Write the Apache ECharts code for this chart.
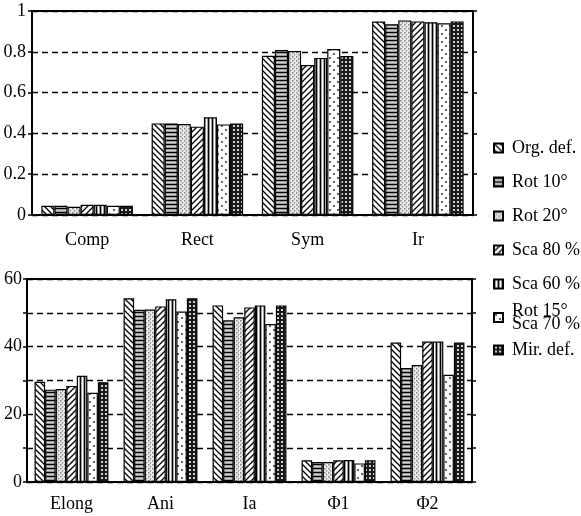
<!DOCTYPE html>
<html>
<head>
<meta charset="utf-8">
<script src="https://cdn.jsdelivr.net/npm/echarts@6/dist/echarts.min.js"></script>
<style>
  html, body { margin: 0; padding: 0; background: #fff; }
  #chart { width: 581px; height: 516px; }
</style>
</head>
<body>
<div id="chart"></div>
<script>
// categories
const topCats = ['Comp', 'Rect', 'Sym', 'Ir'];
const bottomCats = ['Elong', 'Ani', 'Ia', 'Φ1', 'Φ2'];
const seriesNames = ['Org. def.', 'Rot 10°', 'Rot 20°', 'Sca 80 %', 'Sca 60 %', 'Rot 15°\nSca 70 %', 'Mir. def.'];

// values per category, in the order of seriesNames
const comp  = [0.045, 0.045, 0.040, 0.050, 0.050, 0.045, 0.045];
const rect  = [0.449, 0.449, 0.446, 0.433, 0.479, 0.444, 0.449];
const sym   = [0.781, 0.809, 0.804, 0.735, 0.770, 0.814, 0.779];
const ir    = [0.948, 0.935, 0.954, 0.949, 0.945, 0.940, 0.949];

const elong = [29.6, 27.3, 27.5, 28.4, 31.4, 26.4, 29.5];
const ani   = [54.3, 50.9, 51.0, 51.9, 54.0, 50.4, 54.3];
const ia    = [52.2, 47.8, 48.7, 51.6, 52.2, 46.7, 52.2];
const phi1  = [6.4, 5.9, 5.9, 6.4, 6.5, 5.5, 6.4];
const phi2  = [41.2, 33.7, 34.6, 41.5, 41.5, 31.7, 41.2];

const topRows = [comp, rect, sym, ir];
const bottomRows = [elong, ani, ia, phi1, phi2];

const FONT = 'Liberation Serif';

// small canvas tiles used as bar fills
function pattern(size, draw) {
  const c = document.createElement('canvas');
  c.width = size; c.height = size;
  const ctx = c.getContext('2d');
  draw(ctx, size);
  return { image: c, repeat: 'repeat' };
}

function diag(ctx, s, back) {
  ctx.fillStyle = '#fff';
  ctx.fillRect(0, 0, s, s);
  ctx.strokeStyle = '#000';
  ctx.lineWidth = 1.3;
  ctx.beginPath();
  for (let k = -1; k <= 1; k++) {
    if (back) {
      ctx.moveTo(k * s - 1, -1); ctx.lineTo(k * s + s + 1, s + 1);
    } else {
      ctx.moveTo(k * s - 1, s + 1); ctx.lineTo(k * s + s + 1, -1);
    }
  }
  ctx.stroke();
}

const fills = [
  pattern(6, (ctx, s) => diag(ctx, s, true)),
  pattern(4, (ctx) => {
    ctx.fillStyle = '#9a9a9a'; ctx.fillRect(0, 0, 4, 4);
    ctx.fillStyle = '#000'; ctx.fillRect(0, 0, 4, 1);
    ctx.fillStyle = '#d0d0d0'; ctx.fillRect(0, 2, 4, 1);
  }),
  pattern(4, (ctx) => {
    ctx.fillStyle = '#e4e4e4'; ctx.fillRect(0, 0, 4, 4);
    ctx.fillStyle = '#8a8a8a'; ctx.fillRect(0, 0, 1.5, 1.5); ctx.fillRect(2, 2, 1.5, 1.5);
    ctx.fillStyle = '#fff'; ctx.fillRect(3.5, 0, 0.5, 4);
  }),
  pattern(6, (ctx, s) => diag(ctx, s, false)),
  pattern(4, (ctx) => {
    ctx.fillStyle = '#a0a0a0'; ctx.fillRect(0, 0, 4, 4);
    ctx.fillStyle = '#000'; ctx.fillRect(0, 0, 1, 4);
    ctx.fillStyle = '#fff'; ctx.fillRect(2, 0, 1, 4);
  }),
  pattern(8, (ctx) => {
    ctx.fillStyle = '#fff'; ctx.fillRect(0, 0, 8, 8);
    ctx.fillStyle = '#444';
    ctx.beginPath(); ctx.arc(2, 2, 1.1, 0, Math.PI * 2); ctx.fill();
    ctx.beginPath(); ctx.arc(6, 6, 1.1, 0, Math.PI * 2); ctx.fill();
  }),
  pattern(4, (ctx) => {
    ctx.fillStyle = '#1a1a1a'; ctx.fillRect(0, 0, 4, 4);
    ctx.fillStyle = '#cfcfcf'; ctx.fillRect(1, 1, 2, 2);
  })
];

const chart = echarts.init(document.getElementById('chart'), null, { renderer: 'canvas' });

function xAxisFor(grid, data, margin) {
  return {
    gridIndex: grid, type: 'category', data: data,
    axisLine: { lineStyle: { color: '#000', width: 2 } },
    axisTick: { length: 5, lineStyle: { color: '#000', width: 1.5 } },
    axisLabel: { color: '#000', fontFamily: FONT, fontSize: 18, margin: margin }
  };
}

function yAxesFor(grid, max, interval, fmt, margin) {
  return [{
    gridIndex: grid, type: 'value', min: 0, max: max, interval: interval,
    axisLine: { show: true, lineStyle: { color: '#000', width: 2 } },
    axisTick: { show: true, length: 4, lineStyle: { color: '#000', width: 1.5 } },
    axisLabel: { color: '#000', fontFamily: FONT, fontSize: 18, margin: margin, formatter: fmt },
    splitLine: { show: true, lineStyle: { color: '#000', width: 1.3, type: [6, 4] } }
  }, {
    gridIndex: grid, type: 'value', min: 0, max: max, interval: interval, position: 'right',
    axisLine: { show: false },
    axisTick: { show: true, length: 4, lineStyle: { color: '#000', width: 1.5 } },
    axisLabel: { show: false },
    splitLine: { show: false }
  }];
}

const series = [];
seriesNames.forEach((name, i) => {
  const common = {
    name: name, type: 'bar', barGap: '0%', barCategoryGap: '17%',
    itemStyle: { color: fills[i], borderColor: '#000', borderWidth: 1.2 },
    emphasis: { disabled: true }
  };
  series.push(Object.assign({}, common, {
    xAxisIndex: 0, yAxisIndex: 0, data: topRows.map(r => r[i])
  }));
  series.push(Object.assign({}, common, {
    xAxisIndex: 1, yAxisIndex: 2, data: bottomRows.map(r => r[i])
  }));
});

const legendText = { color: '#000', fontFamily: FONT, fontSize: 18, lineHeight: 14, padding: [0, 0, 0, 4] };
const legendBase = {
  orient: 'vertical', left: 488, itemWidth: 9, itemHeight: 9,
  icon: 'rect', itemGap: 16, textStyle: legendText
};

chart.setOption({
  animation: false,
  backgroundColor: '#fff',
  grid: [
    { left: 32, right: 108, top: 11, bottom: 301, show: true, borderColor: '#000', borderWidth: 2 },
    { left: 27, right: 109, top: 279, bottom: 34, show: true, borderColor: '#000', borderWidth: 2 }
  ],
  xAxis: [xAxisFor(0, topCats, 16), xAxisFor(1, bottomCats, 13)],
  yAxis: yAxesFor(0, 1, 0.2, v => String(Math.round(v * 10) / 10), 6)
    .concat(yAxesFor(1, 60, 10, v => (v % 20 === 0 ? String(v) : ''), 5)),
  legend: [
    Object.assign({}, legendBase, { top: 134, data: seriesNames.slice(0, 5) }),
    Object.assign({}, legendBase, { top: 297, data: [seriesNames[5]], textStyle: Object.assign({}, legendText, { lineHeight: 13 }) }),
    Object.assign({}, legendBase, { top: 336, data: [seriesNames[6]] })
  ],
  series: series
});
</script>
</body>
</html>
